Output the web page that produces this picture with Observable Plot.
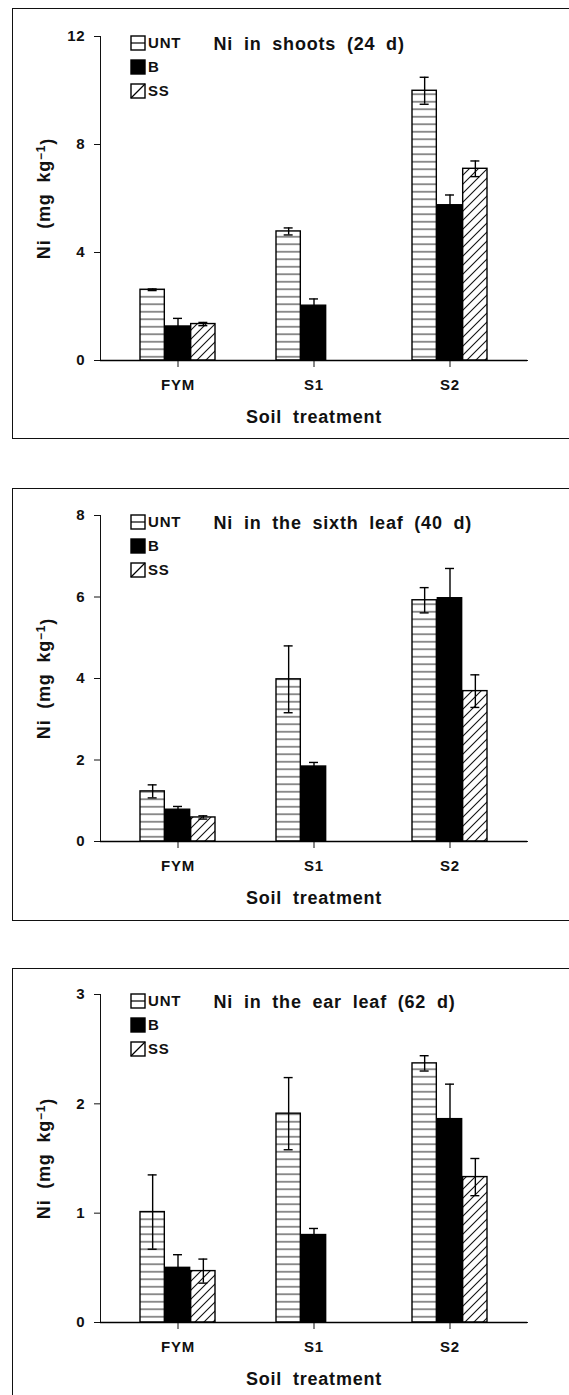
<!DOCTYPE html>
<html><head><meta charset="utf-8">
<script src="https://cdn.jsdelivr.net/npm/d3@7"></script>
<script src="https://cdn.jsdelivr.net/npm/@observablehq/plot@0.6"></script>
<style>
html,body{margin:0;padding:0;background:#fff;}
body{width:569px;height:1395px;overflow:hidden;position:relative;}
.box{position:absolute;left:12px;width:640px;border:1.6px solid #111;box-sizing:border-box;}
.panel{position:absolute;left:0;}
.panel svg text{letter-spacing:0.8px;word-spacing:5px;}
</style></head><body>
<svg width="0" height="0" style="position:absolute">
<defs>
<pattern id="hz" patternUnits="userSpaceOnUse" width="8" height="7.5"><rect width="8" height="7.5" fill="#fff"/><line x1="0" x2="8" y1="3.75" y2="3.75" stroke="#222" stroke-width="1"/></pattern>
<pattern id="dg" patternUnits="userSpaceOnUse" width="9" height="9"><rect width="9" height="9" fill="#fff"/><path d="M-1,10L10,-1M-1,1L1,-1M8,10L10,8" stroke="#111" stroke-width="1.1"/></pattern>
</defs></svg>
<div id="root"></div>
<script>
// ---- data ----
const categories = ["FYM", "S1", "S2"];
const series = ["UNT", "B", "SS"];

const shootsTitle = "Ni in shoots (24 d)";
const shootsTicks = [0, 4, 8, 12];
const shootsUNT = [2.62, 4.78, 9.99];
const shootsUNTse = [0.03, 0.13, 0.50];
const shootsB = [1.26, 2.03, 5.75];
const shootsBse = [0.30, 0.25, 0.38];
const shootsSS = [1.35, null, 7.10];
const shootsSSse = [0.06, null, 0.29];

const sixthTitle = "Ni in the sixth leaf (40 d)";
const sixthTicks = [0, 2, 4, 6, 8];
const sixthUNT = [1.23, 3.98, 5.92];
const sixthUNTse = [0.16, 0.82, 0.31];
const sixthB = [0.78, 1.84, 5.97];
const sixthBse = [0.08, 0.10, 0.73];
const sixthSS = [0.59, null, 3.69];
const sixthSSse = [0.04, null, 0.40];

const earTitle = "Ni in the ear leaf (62 d)";
const earTicks = [0, 1, 2, 3];
const earUNT = [1.01, 1.91, 2.37];
const earUNTse = [0.34, 0.33, 0.07];
const earB = [0.50, 0.80, 1.86];
const earBse = [0.12, 0.06, 0.32];
const earSS = [0.47, null, 1.33];
const earSSse = [0.11, null, 0.17];

const xLabel = "Soil treatment";
const yLabel = "Ni (mg kg-1)";

// ---- layout ----
const W = 569, ML = 100, MR = 42, PI = 0.445, PO = 0.281;
const panels = [
  {title: shootsTitle, ticks: shootsTicks, means: [shootsUNT, shootsB, shootsSS], ses: [shootsUNTse, shootsBse, shootsSSse],
   top: 8, height: 430, mt: 28, mb: 78, boxH: 431},
  {title: sixthTitle, ticks: sixthTicks, means: [sixthUNT, sixthB, sixthSS], ses: [sixthUNTse, sixthBse, sixthSSse],
   top: 488, height: 432, mt: 27, mb: 79, boxH: 433},
  {title: earTitle, ticks: earTicks, means: [earUNT, earB, earSS], ses: [earUNTse, earBse, earSSse],
   top: 968, height: 427, mt: 26, mb: 73, boxH: 500}
];
const fills = {UNT: "url(#hz)", B: "black", SS: "url(#dg)"};
const FONT = "'Liberation Sans', Arial, Helvetica, sans-serif";
const root = document.getElementById("root");

panels.forEach(cfg => {
  const box = document.createElement("div");
  box.className = "box";
  box.style.top = cfg.top + "px";
  box.style.height = cfg.boxH + "px";
  document.body.appendChild(box);

  const rows = [];
  series.forEach((s, i) => categories.forEach((c, j) => {
    const v = cfg.means[i][j];
    if (v != null) rows.push({cat: c, series: s, v, se: cfg.ses[i][j]});
  }));
  const band = d3.scaleBand(categories, [ML, W - MR]).paddingInner(PI).paddingOuter(PO);
  const bw = band.bandwidth(), sub = bw / 3, cap = 10;

  const marks = [];
  series.forEach((s, i) => {
    const d = rows.filter(r => r.series === s);
    marks.push(Plot.barY(d, {x: "cat", y: "v", fill: fills[s], stroke: "black", strokeWidth: 1.4,
      insetLeft: i * sub, insetRight: (2 - i) * sub}));
  });
  series.forEach((s, i) => {
    const d = rows.filter(r => r.series === s);
    const off = (i - 1) * sub;
    marks.push(Plot.ruleX(d, {x: "cat", y1: r => r.v - r.se, y2: r => r.v + r.se, dx: off, stroke: "black", strokeWidth: 1.4}));
    marks.push(Plot.tickY(d, {x: "cat", y: r => r.v + r.se, dx: off, insetLeft: (bw - cap) / 2, insetRight: (bw - cap) / 2, stroke: "black", strokeWidth: 1.4}));
    marks.push(Plot.tickY(d, {x: "cat", y: r => r.v - r.se, dx: off, insetLeft: (bw - cap) / 2, insetRight: (bw - cap) / 2, stroke: "black", strokeWidth: 1.4}));
  });
  marks.push(Plot.ruleY([0], {stroke: "black", strokeWidth: 1.5}));
  marks.push(Plot.text([cfg.title], {frameAnchor: "top-left", dx: 113, dy: 8, textAnchor: "start", lineAnchor: "middle", fontSize: 18, fontWeight: "bold"}));
  marks.push(Plot.text([xLabel], {frameAnchor: "bottom", dy: 57, textAnchor: "middle", lineAnchor: "middle", fontSize: 18, fontWeight: "bold"}));
  marks.push(Plot.text([yLabel], {frameAnchor: "left", dx: -56, rotate: -90, textAnchor: "middle", lineAnchor: "middle", fontSize: 18, fontWeight: "bold"}));

  const chart = Plot.plot({
    width: W, height: cfg.height, marginLeft: ML, marginRight: MR, marginTop: cfg.mt, marginBottom: cfg.mb,
    style: {fontFamily: FONT, fontSize: "15px", fontWeight: "bold", color: "#111", background: "transparent", overflow: "visible"},
    x: {domain: categories, paddingInner: PI, paddingOuter: PO, label: null, tickSize: 7, tickPadding: 12, line: true},
    y: {domain: [0, d3.max(cfg.ticks)], ticks: cfg.ticks, tickFormat: d => String(d), label: null, tickSize: 6, tickPadding: 9, line: true},
    marks
  });
  const wrap = document.createElement("div");
  wrap.className = "panel";
  wrap.style.top = cfg.top + "px";
  wrap.appendChild(chart);
  root.appendChild(wrap);

  const svg = d3.select(chart);
  // superscript in y label
  svg.selectAll("text").filter(function() { return this.textContent === yLabel; }).each(function() {
    const t = d3.select(this);
    t.text("");
    t.append("tspan").text("Ni (mg kg");
    t.append("tspan").attr("dy", "-0.45em").attr("font-size", 12).text("\u22121");
    t.append("tspan").attr("dy", "0.45em").text(")");
  });
  // legend
  const lg = svg.append("g").attr("font-family", FONT).attr("font-size", 15).attr("font-weight", "bold").attr("text-anchor", "start");
  series.forEach((s, i) => {
    const x0 = 131, y0 = cfg.mt + 24 * i, sz = 14;
    lg.append("rect").attr("x", x0).attr("y", y0).attr("width", sz).attr("height", sz)
      .attr("fill", s === "B" ? "black" : "white").attr("stroke", "black").attr("stroke-width", 1.4);
    if (s === "UNT") lg.append("line").attr("x1", x0).attr("x2", x0 + sz).attr("y1", y0 + sz / 2).attr("y2", y0 + sz / 2).attr("stroke", "black").attr("stroke-width", 1.2);
    if (s === "SS") lg.append("line").attr("x1", x0).attr("x2", x0 + sz).attr("y1", y0 + sz).attr("y2", y0).attr("stroke", "black").attr("stroke-width", 1.2);
    lg.append("text").attr("x", x0 + 17).attr("y", y0 + sz / 2).attr("dy", "0.36em").attr("fill", "#111").text(s);
  });
});
</script>
</body></html>
